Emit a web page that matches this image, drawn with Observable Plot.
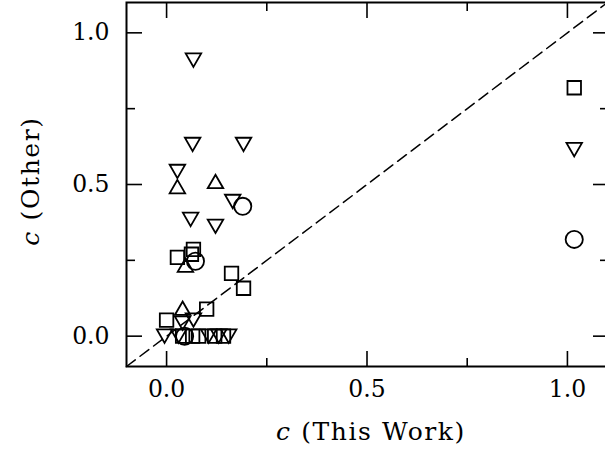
<!DOCTYPE html>
<html>
<head>
<meta charset="utf-8">
<script src="https://cdn.jsdelivr.net/npm/d3@7"></script>
<script src="https://cdn.jsdelivr.net/npm/@observablehq/plot@0.6"></script>
<style>
  html, body { margin: 0; padding: 0; background: #fff; }
  #chart svg { display: block; }
</style>
</head>
<body>
<div id="chart"></div>
<script>
// ---- data ----
const squareX = [1.017, 0.027, 0.062, 0.067, 0.162, 0.192, 0.100, 0.000, 0.040, 0.065, 0.080, 0.120, 0.142];
const squareY = [0.819, 0.260, 0.270, 0.286, 0.207, 0.158, 0.089, 0.053, 0.000, 0.000, 0.000, 0.000, 0.000];

const triDownX = [0.067, 0.065, 0.192, 0.027, 0.165, 0.060, 0.122, 1.017, 0.040, 0.067, -0.005, 0.030, 0.105, 0.130, 0.155];
const triDownY = [0.910, 0.632, 0.632, 0.543, 0.444, 0.385, 0.362, 0.615, 0.043, 0.053, 0.000, 0.000, 0.000, 0.000, 0.000];

const triUpX = [0.027, 0.122, 0.047, 0.040];
const triUpY = [0.493, 0.510, 0.234, 0.092];

const circleX = [0.190, 0.072, 1.017, 0.045];
const circleY = [0.428, 0.247, 0.319, 0.000];

const majorTicks = [0, 0.5, 1.0];
const minorTicks = [0.25, 0.75];
const axisDomain = [-0.1, 1.1];
const identityLine = [-0.1, 1.1];

const xTitle = ["c", " (This Work)"];
const yTitle = ["c", " (Other)"];

// ---- symbols (bounding box centred) ----
const SIDE = 15.5, H = SIDE * Math.sqrt(3) / 2;
const triUpSymbol = {draw(ctx) {
  ctx.moveTo(0, -H / 2); ctx.lineTo(SIDE / 2, H / 2); ctx.lineTo(-SIDE / 2, H / 2); ctx.closePath();
}};
const triDownSymbol = {draw(ctx) {
  ctx.moveTo(0, H / 2); ctx.lineTo(SIDE / 2, -H / 2); ctx.lineTo(-SIDE / 2, -H / 2); ctx.closePath();
}};
const SQ = 13.5;
const squareSymbol = {draw(ctx) { ctx.rect(-SQ / 2, -SQ / 2, SQ, SQ); }};
const circleSymbol = {draw(ctx) { ctx.moveTo(8.6, 0); ctx.arc(0, 0, 8.6, 0, 2 * Math.PI); }};

const zip = (xs, ys) => xs.map((x, i) => ({x, y: ys[i]}));

const dotStyle = {x: "x", y: "y", fill: "none", stroke: "black", strokeWidth: 1.8};

const plot = Plot.plot({
  width: 605,
  height: 451,
  marginLeft: 126,
  marginRight: -2,
  marginTop: 2,
  marginBottom: 85,
  style: {fontFamily: "DejaVu Serif", background: "white", color: "black"},
  x: {domain: axisDomain},
  y: {domain: axisDomain},
  marks: [
    // tick labels
    Plot.axisX({anchor: "bottom", ticks: majorTicks, tickSize: 0, tickPadding: 14, tickFormat: d3.format(".1f"), fontSize: 23.5, label: null}),
    Plot.axisY({anchor: "left", ticks: majorTicks, tickSize: 0, tickPadding: 17, tickFormat: d3.format(".1f"), fontSize: 23.5, label: null}),
    // inward ticks, all four sides
    Plot.axisX({anchor: "bottom", ticks: majorTicks, tickSize: -15, tickFormat: () => "", label: null, strokeWidth: 1.6}),
    Plot.axisX({anchor: "bottom", ticks: minorTicks, tickSize: -8, tickFormat: () => "", label: null, strokeWidth: 1.6}),
    Plot.axisX({anchor: "top", ticks: majorTicks, tickSize: -15, tickFormat: () => "", label: null, strokeWidth: 1.6}),
    Plot.axisX({anchor: "top", ticks: minorTicks, tickSize: -8, tickFormat: () => "", label: null, strokeWidth: 1.6}),
    Plot.axisY({anchor: "left", ticks: majorTicks, tickSize: -16, tickFormat: () => "", label: null, strokeWidth: 1.6}),
    Plot.axisY({anchor: "left", ticks: minorTicks, tickSize: -9, tickFormat: () => "", label: null, strokeWidth: 1.6}),
    Plot.axisY({anchor: "right", ticks: majorTicks, tickSize: -15, tickFormat: () => "", label: null, strokeWidth: 1.6}),
    Plot.axisY({anchor: "right", ticks: minorTicks, tickSize: -8, tickFormat: () => "", label: null, strokeWidth: 1.6}),
    Plot.frame({stroke: "black", strokeWidth: 2}),
    // y = x
    Plot.line(identityLine, {x: d => d, y: d => d, stroke: "black", strokeWidth: 1.5, strokeDasharray: "11,6"}),
    // data
    Plot.dot(zip(squareX, squareY), {...dotStyle, symbol: squareSymbol}),
    Plot.dot(zip(triDownX, triDownY), {...dotStyle, symbol: triDownSymbol}),
    Plot.dot(zip(triUpX, triUpY), {...dotStyle, symbol: triUpSymbol}),
    Plot.dot(zip(circleX, circleY), {...dotStyle, symbol: circleSymbol})
  ]
});

document.getElementById("chart").appendChild(plot);

// axis titles with italic variable
const svg = d3.select(plot);
function addTitle(parts, x, y, rotate) {
  const t = svg.append("text")
    .attr("transform", `translate(${x},${y})` + (rotate ? " rotate(-90)" : ""))
    .attr("text-anchor", "middle")
    .attr("font-family", "DejaVu Serif")
    .attr("font-size", 25)
    .attr("letter-spacing", 1.6)
    .attr("fill", "black");
  t.append("tspan").attr("font-style", "italic").text(parts[0]);
  t.append("tspan").text(parts[1]);
}
addTitle(xTitle, 371, 440, false);
addTitle(yTitle, 39, 181, true);
</script>
</body>
</html>
